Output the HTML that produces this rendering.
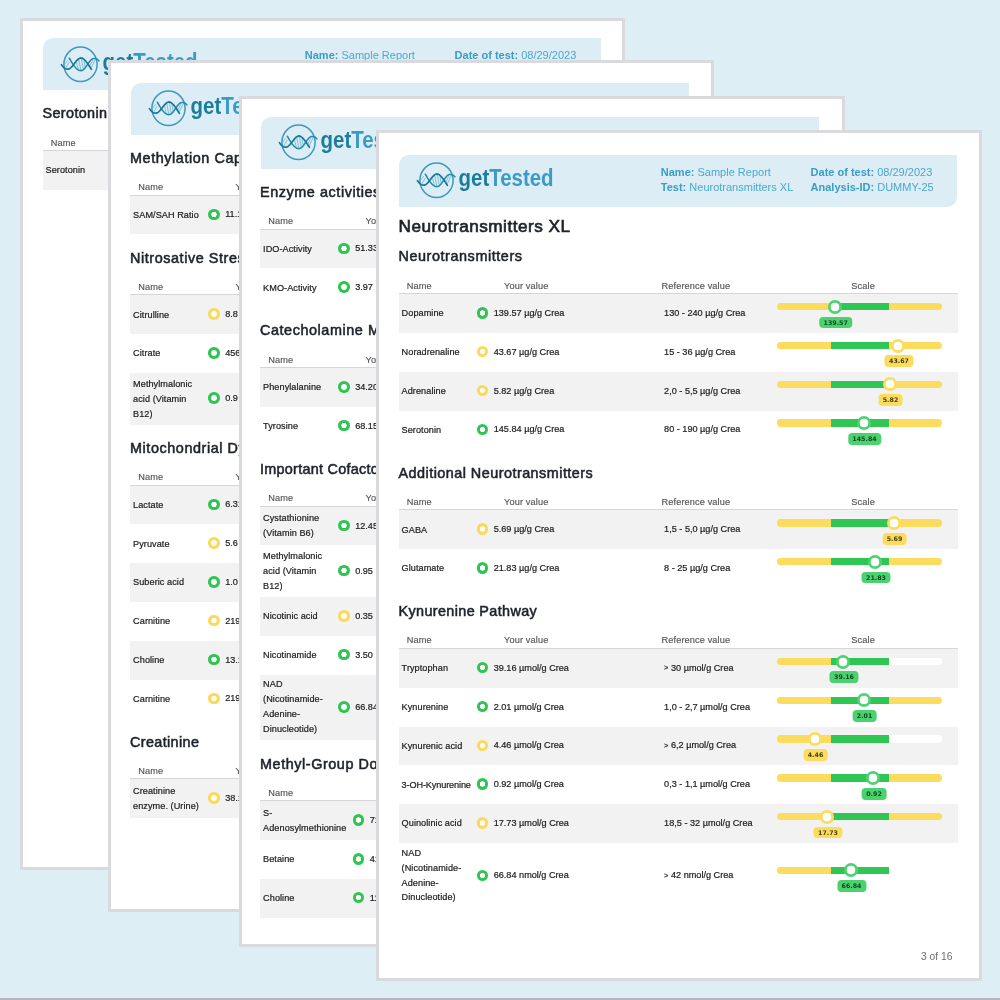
<!DOCTYPE html>
<html lang="en"><head><meta charset="utf-8"><title>getTested sample report</title>
<style>
*{box-sizing:border-box;margin:0;padding:0}
html,body{width:1000px;height:1000px;overflow:hidden}
body{background:#ddeef5;font-family:"Liberation Sans",sans-serif;position:relative;color:#1d2129}
.foot{position:absolute;left:0;top:997.5px;width:1000px;height:3px;background:#b4b7bc}
.page{position:absolute;background:#fff;border:3px solid #dadade;overflow:hidden}
.in{position:absolute;width:559.5px}
.band{position:relative;height:52px;margin-left:.5px;width:558px;background:#dcedf5;border-radius:10px 0 10px 0}
.logo{position:absolute;left:17px;top:5.5px;width:150px;height:40px}
.info{position:absolute;top:10px;font-size:11px;line-height:15.4px;color:#4ba9cc;white-space:nowrap}
.info b{color:#3a9dc5;font-weight:700}
.i1{left:261.8px}.i2{left:411.6px}
h1,h2{font-weight:400;white-space:nowrap;color:#1e222b;-webkit-text-stroke:.55px #1e222b}
h1{-webkit-text-stroke-width:.68px;font-size:17.2px;height:26.7px;line-height:20px;padding-top:9.6px;letter-spacing:.48px}
h2{font-size:14.4px;line-height:18px;height:33px;padding-top:14.2px;letter-spacing:.57px}
.th{position:relative;height:28px;border-bottom:1px solid #d6d6d6;font-size:9.2px;letter-spacing:.12px;color:#555;white-space:nowrap;-webkit-text-stroke:.15px #555}
.th span{position:absolute;top:13.5px;line-height:12px}
.th .c1{left:8.3px}.th .c2{left:105.6px}.th .c3{left:263px}.th .c4{left:452.8px}
.r{position:relative;height:38.8px;font-size:9.15px;line-height:14.9px;color:#1b1b1b;white-space:nowrap;-webkit-text-stroke:.2px #1b1b1b}
.r.z{background:#f2f2f2}
.r.h3{height:51.6px}.r.h4{height:65.7px}
.n{position:absolute;left:3.1px;letter-spacing:.06px;top:50%;transform:translateY(-50%);margin-top:-.1px}
.d{position:absolute;left:78.4px;top:50%;margin-top:-6.3px;width:11.4px;height:11.4px;border-radius:50%;background:radial-gradient(circle closest-side,#fff 0 45%,#2fc552 53%)}
.d.y{background:radial-gradient(circle closest-side,#fffdf2 0 45%,#fbd95b 53%)}
.v,.f{position:absolute;top:50%;margin-top:-7.55px}
.v{left:95.2px}
.f{left:265.6px}
.s{position:absolute;left:378.5px;top:8.9px;width:165px;height:7.3px;border-radius:3.65px;background:linear-gradient(90deg,#fcdc5e 0 32.9%,#2fc653 32.9% 67.6%,#fcdc5e 67.6%)}
.s.o{background:linear-gradient(90deg,#fcdc5e 0 32.9%,#2fc653 32.9% 67.6%,#fff 67.6%)}
.r.h4 .s{top:23.7px}
.k{position:absolute;top:-3.3px;width:14px;height:14px;margin-left:-7px;border-radius:50%;background:radial-gradient(circle closest-side,#fff 0 59%,#4fd272 66%)}
.k.y{background:radial-gradient(circle closest-side,#fff 0 59%,#fcdc5e 66%)}
.l{position:absolute;top:13.5px;transform:translateX(-50%);margin-left:1px;height:11.8px;line-height:11.8px;padding:0 4.6px;border-radius:4px;background:#4bd16e;font-family:"DejaVu Sans","Liberation Sans",sans-serif;font-size:6.3px;font-weight:700;color:#0f4a22;-webkit-text-stroke:0}
.l.y{background:#fcdc5e;color:#4a3d0c}
.gt{font-size:7.4px;position:relative;top:-.5px}
.pg{position:absolute;font-size:10.3px;color:#6d6d6d;white-space:nowrap}
</style></head>
<body>
<div class="page" style="left:20px;top:18px;width:605px;height:852px"><div class="in" style="left:19.5px;top:17px">
<div class="band"><svg class="logo" viewBox="416 160 150 40" width="150" height="40">
<ellipse cx="436.5" cy="180.3" rx="16.6" ry="17.2" fill="none" stroke="#4198bb" stroke-width="1.5"/>
<g fill="none" stroke-linecap="round" stroke-linejoin="round">
<path d="M423.4 176.4L419.8 181.4M425.2 178.2L422 183.6M432.4 177.6L434.2 184.8M434.8 175.6L436.8 186.2M437.4 175L439.4 186M440 176.8L441.4 184M448.6 176.6L446 181.6M451 176L447.6 183.2" stroke="#5aa9c4" stroke-width=".7"/>
<path d="M425.3 174.2C428 178 431.2 186.8 437 186.8C442.4 186.8 444.2 175.2 449.6 174.5C452 174.2 454 175.2 455 176.9" stroke="#2589a9" stroke-width="1.5"/>
<path d="M417.4 180.6C419.4 183.8 422 185.6 424.4 185.1C429 184.2 432 174.1 437 173.9C441 173.9 443.2 179.4 447.4 185.3" stroke="#16789a" stroke-width="1.7"/>
</g>
<text x="458.6" y="185.6" font-family="Liberation Sans, sans-serif" font-weight="700" font-size="24.8" textLength="95" lengthAdjust="spacingAndGlyphs"><tspan fill="#1b7d9c">get</tspan><tspan fill="#3a9bc6">Tested</tspan></text>
</svg><div class="info i1"><b>Name:</b> Sample Report<br><b>Test:</b> Serotonin</div><div class="info i2"><b>Date of test:</b> 08/29/2023<br><b>Analysis-ID:</b> DUMMY-25</div></div><h2 style="letter-spacing:0.37px">Serotonin</h2>
<div class="th"><span class="c1">Name</span><span class="c2">Your value</span><span class="c3">Reference value</span><span class="c4">Scale</span></div>
<div class="r z"><div class="n">Serotonin</div><i class="d"></i><div class="v">145.84 µg/g Crea</div><div class="f">80 - 190 µg/g Crea</div></div>
</div></div>
<div class="page" style="left:108px;top:60px;width:606px;height:852px"><div class="in" style="left:19px;top:19.6px">
<div class="band"><svg class="logo" viewBox="416 160 150 40" width="150" height="40">
<ellipse cx="436.5" cy="180.3" rx="16.6" ry="17.2" fill="none" stroke="#4198bb" stroke-width="1.5"/>
<g fill="none" stroke-linecap="round" stroke-linejoin="round">
<path d="M423.4 176.4L419.8 181.4M425.2 178.2L422 183.6M432.4 177.6L434.2 184.8M434.8 175.6L436.8 186.2M437.4 175L439.4 186M440 176.8L441.4 184M448.6 176.6L446 181.6M451 176L447.6 183.2" stroke="#5aa9c4" stroke-width=".7"/>
<path d="M425.3 174.2C428 178 431.2 186.8 437 186.8C442.4 186.8 444.2 175.2 449.6 174.5C452 174.2 454 175.2 455 176.9" stroke="#2589a9" stroke-width="1.5"/>
<path d="M417.4 180.6C419.4 183.8 422 185.6 424.4 185.1C429 184.2 432 174.1 437 173.9C441 173.9 443.2 179.4 447.4 185.3" stroke="#16789a" stroke-width="1.7"/>
</g>
<text x="458.6" y="185.6" font-family="Liberation Sans, sans-serif" font-weight="700" font-size="24.8" textLength="95" lengthAdjust="spacingAndGlyphs"><tspan fill="#1b7d9c">get</tspan><tspan fill="#3a9bc6">Tested</tspan></text>
</svg></div><h2>Methylation Capacity</h2>
<div class="th"><span class="c1">Name</span><span class="c2">Your value</span><span class="c3">Reference value</span><span class="c4">Scale</span></div>
<div class="r z"><div class="n">SAM/SAH Ratio</div><i class="d"></i><div class="v">11.1</div></div><h2>Nitrosative Stress</h2>
<div class="th"><span class="c1">Name</span><span class="c2">Your value</span><span class="c3">Reference value</span><span class="c4">Scale</span></div>
<div class="r z"><div class="n">Citrulline</div><i class="d y"></i><div class="v">8.8 µmol/g Crea</div></div>
<div class="r"><div class="n">Citrate</div><i class="d"></i><div class="v">456.10 µmol/g Crea</div></div>
<div class="r z h3"><div class="n">Methylmalonic<br>acid (Vitamin<br>B12)</div><i class="d"></i><div class="v">0.9 µmol/g Crea</div></div><h2>Mitochondrial Dysfunction</h2>
<div class="th"><span class="c1">Name</span><span class="c2">Your value</span><span class="c3">Reference value</span><span class="c4">Scale</span></div>
<div class="r z"><div class="n">Lactate</div><i class="d"></i><div class="v">6.31 µmol/g Crea</div></div>
<div class="r"><div class="n">Pyruvate</div><i class="d y"></i><div class="v">5.6 µmol/g Crea</div></div>
<div class="r z"><div class="n">Suberic acid</div><i class="d"></i><div class="v">1.0 µmol/g Crea</div></div>
<div class="r"><div class="n">Carnitine</div><i class="d y"></i><div class="v">219.40 µmol/g Crea</div></div>
<div class="r z"><div class="n">Choline</div><i class="d"></i><div class="v">13.1 µmol/g Crea</div></div>
<div class="r"><div class="n">Carnitine</div><i class="d y"></i><div class="v">219.40 µmol/g Crea</div></div><h2 style="letter-spacing:0.37px">Creatinine</h2>
<div class="th"><span class="c1">Name</span><span class="c2">Your value</span><span class="c3">Reference value</span><span class="c4">Scale</span></div>
<div class="r z"><div class="n">Creatinine<br>enzyme. (Urine)</div><i class="d y"></i><div class="v">38.1 mg/dl</div></div>
</div></div>
<div class="page" style="left:239px;top:96px;width:606px;height:851px"><div class="in" style="left:18px;top:17.5px">
<div class="band"><svg class="logo" viewBox="416 160 150 40" width="150" height="40">
<ellipse cx="436.5" cy="180.3" rx="16.6" ry="17.2" fill="none" stroke="#4198bb" stroke-width="1.5"/>
<g fill="none" stroke-linecap="round" stroke-linejoin="round">
<path d="M423.4 176.4L419.8 181.4M425.2 178.2L422 183.6M432.4 177.6L434.2 184.8M434.8 175.6L436.8 186.2M437.4 175L439.4 186M440 176.8L441.4 184M448.6 176.6L446 181.6M451 176L447.6 183.2" stroke="#5aa9c4" stroke-width=".7"/>
<path d="M425.3 174.2C428 178 431.2 186.8 437 186.8C442.4 186.8 444.2 175.2 449.6 174.5C452 174.2 454 175.2 455 176.9" stroke="#2589a9" stroke-width="1.5"/>
<path d="M417.4 180.6C419.4 183.8 422 185.6 424.4 185.1C429 184.2 432 174.1 437 173.9C441 173.9 443.2 179.4 447.4 185.3" stroke="#16789a" stroke-width="1.7"/>
</g>
<text x="458.6" y="185.6" font-family="Liberation Sans, sans-serif" font-weight="700" font-size="24.8" textLength="95" lengthAdjust="spacingAndGlyphs"><tspan fill="#1b7d9c">get</tspan><tspan fill="#3a9bc6">Tested</tspan></text>
</svg></div><h2>Enzyme activities</h2>
<div class="th"><span class="c1">Name</span><span class="c2">Your value</span><span class="c3">Reference value</span><span class="c4">Scale</span></div>
<div class="r z"><div class="n">IDO-Activity</div><i class="d"></i><div class="v">51.33</div></div>
<div class="r"><div class="n">KMO-Activity</div><i class="d"></i><div class="v">3.97</div></div><h2>Catecholamine Metabolism</h2>
<div class="th"><span class="c1">Name</span><span class="c2">Your value</span><span class="c3">Reference value</span><span class="c4">Scale</span></div>
<div class="r z"><div class="n">Phenylalanine</div><i class="d"></i><div class="v">34.20 µmol/g Crea</div></div>
<div class="r"><div class="n">Tyrosine</div><i class="d"></i><div class="v">68.15 µmol/g Crea</div></div><h2 style="letter-spacing:0.27px">Important Cofactors</h2>
<div class="th"><span class="c1">Name</span><span class="c2">Your value</span><span class="c3">Reference value</span><span class="c4">Scale</span></div>
<div class="r z"><div class="n">Cystathionine<br>(Vitamin B6)</div><i class="d"></i><div class="v">12.45 µmol/g Crea</div></div>
<div class="r h3"><div class="n">Methylmalonic<br>acid (Vitamin<br>B12)</div><i class="d"></i><div class="v">0.95 µmol/g Crea</div></div>
<div class="r z"><div class="n">Nicotinic acid</div><i class="d y"></i><div class="v">0.35 µmol/g Crea</div></div>
<div class="r"><div class="n">Nicotinamide</div><i class="d"></i><div class="v">3.50 µmol/g Crea</div></div>
<div class="r z h4"><div class="n">NAD<br>(Nicotinamide-<br>Adenine-<br>Dinucleotide)</div><i class="d"></i><div class="v">66.84 nmol/g Crea</div></div><h2>Methyl-Group Donors</h2>
<div class="th"><span class="c1">Name</span><span class="c2" style="left:120.2px">Your value</span><span class="c3">Reference value</span><span class="c4">Scale</span></div>
<div class="r z"><div class="n">S-<br>Adenosylmethionine</div><i class="d" style="left:93px"></i><div class="v" style="left:109.8px">71.10 µmol/g Crea</div></div>
<div class="r"><div class="n">Betaine</div><i class="d" style="left:93px"></i><div class="v" style="left:109.8px">41.30 µmol/g Crea</div></div>
<div class="r z"><div class="n">Choline</div><i class="d" style="left:93px"></i><div class="v" style="left:109.8px">11.25 µmol/g Crea</div></div>
</div></div>
<div class="page" style="left:376px;top:130px;width:606px;height:851px"><div class="in" style="left:19.5px;top:21.5px">
<div class="band"><svg class="logo" viewBox="416 160 150 40" width="150" height="40">
<ellipse cx="436.5" cy="180.3" rx="16.6" ry="17.2" fill="none" stroke="#4198bb" stroke-width="1.5"/>
<g fill="none" stroke-linecap="round" stroke-linejoin="round">
<path d="M423.4 176.4L419.8 181.4M425.2 178.2L422 183.6M432.4 177.6L434.2 184.8M434.8 175.6L436.8 186.2M437.4 175L439.4 186M440 176.8L441.4 184M448.6 176.6L446 181.6M451 176L447.6 183.2" stroke="#5aa9c4" stroke-width=".7"/>
<path d="M425.3 174.2C428 178 431.2 186.8 437 186.8C442.4 186.8 444.2 175.2 449.6 174.5C452 174.2 454 175.2 455 176.9" stroke="#2589a9" stroke-width="1.5"/>
<path d="M417.4 180.6C419.4 183.8 422 185.6 424.4 185.1C429 184.2 432 174.1 437 173.9C441 173.9 443.2 179.4 447.4 185.3" stroke="#16789a" stroke-width="1.7"/>
</g>
<text x="458.6" y="185.6" font-family="Liberation Sans, sans-serif" font-weight="700" font-size="24.8" textLength="95" lengthAdjust="spacingAndGlyphs"><tspan fill="#1b7d9c">get</tspan><tspan fill="#3a9bc6">Tested</tspan></text>
</svg><div class="info i1"><b>Name:</b> Sample Report<br><b>Test:</b> Neurotransmitters XL</div><div class="info i2"><b>Date of test:</b> 08/29/2023<br><b>Analysis-ID:</b> DUMMY-25</div></div><h1>Neurotransmitters XL</h1><h2>Neurotransmitters</h2>
<div class="th"><span class="c1">Name</span><span class="c2">Your value</span><span class="c3">Reference value</span><span class="c4">Scale</span></div>
<div class="r z"><div class="n">Dopamine</div><i class="d"></i><div class="v">139.57 µg/g Crea</div><div class="f">130 - 240 µg/g Crea</div><div class="s"><i class="k" style="left:57.7px"></i><b class="l" style="left:57.7px">139.57</b></div></div>
<div class="r"><div class="n">Noradrenaline</div><i class="d y"></i><div class="v">43.67 µg/g Crea</div><div class="f">15 - 36 µg/g Crea</div><div class="s"><i class="k y" style="left:121px"></i><b class="l y" style="left:121px">43.67</b></div></div>
<div class="r z"><div class="n">Adrenaline</div><i class="d y"></i><div class="v">5.82 µg/g Crea</div><div class="f">2,0 - 5,5 µg/g Crea</div><div class="s"><i class="k y" style="left:112.5px"></i><b class="l y" style="left:112.5px">5.82</b></div></div>
<div class="r"><div class="n">Serotonin</div><i class="d"></i><div class="v">145.84 µg/g Crea</div><div class="f">80 - 190 µg/g Crea</div><div class="s"><i class="k" style="left:86.5px"></i><b class="l" style="left:86.5px">145.84</b></div></div><h2 style="letter-spacing:0.47px">Additional Neurotransmitters</h2>
<div class="th"><span class="c1">Name</span><span class="c2">Your value</span><span class="c3">Reference value</span><span class="c4">Scale</span></div>
<div class="r z"><div class="n">GABA</div><i class="d y"></i><div class="v">5.69 µg/g Crea</div><div class="f">1,5 - 5,0 µg/g Crea</div><div class="s"><i class="k y" style="left:116.5px"></i><b class="l y" style="left:116.5px">5.69</b></div></div>
<div class="r"><div class="n">Glutamate</div><i class="d"></i><div class="v">21.83 µg/g Crea</div><div class="f">8 - 25 µg/g Crea</div><div class="s"><i class="k" style="left:98px"></i><b class="l" style="left:98px">21.83</b></div></div><h2 style="letter-spacing:0.37px">Kynurenine Pathway</h2>
<div class="th"><span class="c1">Name</span><span class="c2">Your value</span><span class="c3">Reference value</span><span class="c4">Scale</span></div>
<div class="r z"><div class="n">Tryptophan</div><i class="d"></i><div class="v">39.16 µmol/g Crea</div><div class="f"><span class="gt">&gt;</span> 30 µmol/g Crea</div><div class="s o"><i class="k" style="left:66px"></i><b class="l" style="left:66px">39.16</b></div></div>
<div class="r"><div class="n">Kynurenine</div><i class="d"></i><div class="v">2.01 µmol/g Crea</div><div class="f">1,0 - 2,7 µmol/g Crea</div><div class="s"><i class="k" style="left:86.5px"></i><b class="l" style="left:86.5px">2.01</b></div></div>
<div class="r z"><div class="n">Kynurenic acid</div><i class="d y"></i><div class="v">4.46 µmol/g Crea</div><div class="f"><span class="gt">&gt;</span> 6,2 µmol/g Crea</div><div class="s o"><i class="k y" style="left:37.5px"></i><b class="l y" style="left:37.5px">4.46</b></div></div>
<div class="r"><div class="n"><span style="letter-spacing:-.12px">3-OH-Kynurenine</span></div><i class="d"></i><div class="v">0.92 µmol/g Crea</div><div class="f">0,3 - 1,1 µmol/g Crea</div><div class="s"><i class="k" style="left:96px"></i><b class="l" style="left:96px">0.92</b></div></div>
<div class="r z"><div class="n">Quinolinic acid</div><i class="d y"></i><div class="v">17.73 µmol/g Crea</div><div class="f">18,5 - 32 µmol/g Crea</div><div class="s"><i class="k y" style="left:50px"></i><b class="l y" style="left:50px">17.73</b></div></div>
<div class="r h4"><div class="n">NAD<br>(Nicotinamide-<br>Adenine-<br>Dinucleotide)</div><i class="d"></i><div class="v">66.84 nmol/g Crea</div><div class="f"><span class="gt">&gt;</span> 42 nmol/g Crea</div><div class="s o"><i class="k" style="left:73.5px"></i><b class="l" style="left:73.5px">66.84</b></div></div>
</div><div class="pg" style="left:542px;top:818px">3 of 16</div></div>
<div class="foot"></div>
</body></html>
